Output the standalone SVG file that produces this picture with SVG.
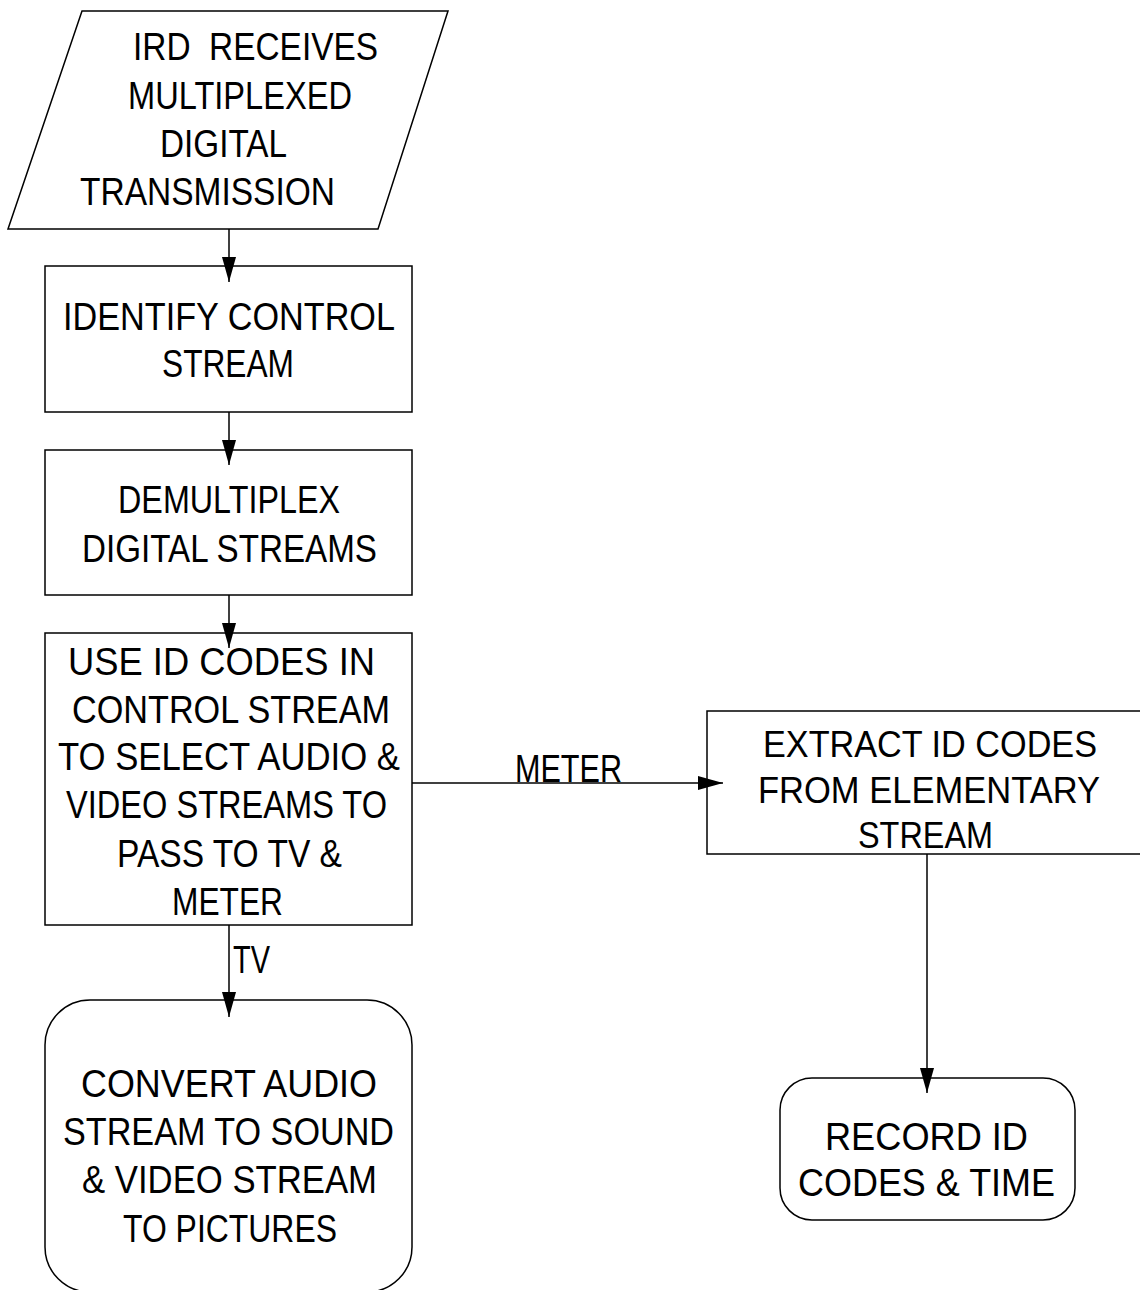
<svg xmlns="http://www.w3.org/2000/svg" width="1140" height="1290" viewBox="0 0 1140 1290">
<style>
.s{fill:#fff;stroke:#000;stroke-width:1.5}
.t{font-family:"Liberation Sans",Arial,sans-serif;font-size:39.5px;fill:#000}
.r{font-size:36.5px}
.c{stroke:#000;stroke-width:1.5;fill:none}
</style>
<defs>
<marker id="ah" markerUnits="userSpaceOnUse" markerWidth="26" markerHeight="16" refX="25" refY="7" orient="auto">
<path d="M0,0 L25,7 L0,14 z" fill="#000"/>
</marker>
</defs>
<rect width="1140" height="1290" fill="#fff"/>
<g id="n1">
<polygon class="s" points="82,11 448,11 378,229 8,229"/>
<text class="t" xml:space="preserve" x="133" y="60" textLength="245" lengthAdjust="spacingAndGlyphs">IRD  RECEIVES</text>
<text class="t" x="128" y="109" textLength="224" lengthAdjust="spacingAndGlyphs">MULTIPLEXED</text>
<text class="t" x="160" y="157" textLength="127" lengthAdjust="spacingAndGlyphs">DIGITAL</text>
<text class="t" x="80" y="205" textLength="255" lengthAdjust="spacingAndGlyphs">TRANSMISSION</text>
</g>
<g id="n2">
<rect class="s" x="45" y="266" width="367" height="146"/>
<text class="t" x="63" y="330" textLength="332" lengthAdjust="spacingAndGlyphs">IDENTIFY CONTROL</text>
<text class="t" x="162" y="377" textLength="132" lengthAdjust="spacingAndGlyphs">STREAM</text>
</g>
<g id="n3">
<rect class="s" x="45" y="450" width="367" height="145"/>
<text class="t" x="118" y="513" textLength="222" lengthAdjust="spacingAndGlyphs">DEMULTIPLEX</text>
<text class="t" x="82" y="562" textLength="295" lengthAdjust="spacingAndGlyphs">DIGITAL STREAMS</text>
</g>
<g id="n4">
<rect class="s" x="45" y="633" width="367" height="292"/>
<text class="t" x="68" y="675" textLength="307" lengthAdjust="spacingAndGlyphs">USE ID CODES IN</text>
<text class="t" x="72" y="723" textLength="318" lengthAdjust="spacingAndGlyphs">CONTROL STREAM</text>
<text class="t" x="58" y="770" textLength="342" lengthAdjust="spacingAndGlyphs">TO SELECT AUDIO &amp;</text>
<text class="t" x="66" y="818" textLength="321" lengthAdjust="spacingAndGlyphs">VIDEO STREAMS TO</text>
<text class="t" x="117" y="867" textLength="225" lengthAdjust="spacingAndGlyphs">PASS TO TV &amp;</text>
<text class="t" x="172" y="915" textLength="111" lengthAdjust="spacingAndGlyphs">METER</text>
</g>
<g id="n5">
<rect class="s" x="45" y="1000" width="367" height="292" rx="45" ry="45"/>
<text class="t" x="81" y="1097" textLength="296" lengthAdjust="spacingAndGlyphs">CONVERT AUDIO</text>
<text class="t" x="63" y="1145" textLength="331" lengthAdjust="spacingAndGlyphs">STREAM TO SOUND</text>
<text class="t" x="82" y="1193" textLength="295" lengthAdjust="spacingAndGlyphs">&amp; VIDEO STREAM</text>
<text class="t" x="123" y="1242" textLength="214" lengthAdjust="spacingAndGlyphs">TO PICTURES</text>
</g>
<g id="n6">
<path class="s" d="M1140,711 H707 V854 H1140"/>
<text class="t r" x="763" y="757" textLength="334" lengthAdjust="spacingAndGlyphs">EXTRACT ID CODES</text>
<text class="t r" x="758" y="803" textLength="342" lengthAdjust="spacingAndGlyphs">FROM ELEMENTARY</text>
<text class="t r" x="858" y="848" textLength="135" lengthAdjust="spacingAndGlyphs">STREAM</text>
</g>
<g id="n7">
<rect class="s" x="780" y="1078" width="295" height="142" rx="32" ry="32"/>
<text class="t" x="825" y="1150" textLength="203" lengthAdjust="spacingAndGlyphs">RECORD ID</text>
<text class="t" x="798" y="1196" textLength="257" lengthAdjust="spacingAndGlyphs">CODES &amp; TIME</text>
</g>
<g id="connectors">
<line class="c" x1="229" y1="229" x2="229" y2="282" marker-end="url(#ah)"/>
<line class="c" x1="229" y1="412" x2="229" y2="465" marker-end="url(#ah)"/>
<line class="c" x1="229" y1="595" x2="229" y2="648" marker-end="url(#ah)"/>
<line class="c" x1="229" y1="925" x2="229" y2="1017" marker-end="url(#ah)"/>
<line class="c" x1="412" y1="783" x2="723" y2="783" marker-end="url(#ah)"/>
<line class="c" x1="927" y1="854" x2="927" y2="1093" marker-end="url(#ah)"/>
<text class="t" x="233" y="973" textLength="37" lengthAdjust="spacingAndGlyphs">TV</text>
<text class="t" x="515" y="782" textLength="107" lengthAdjust="spacingAndGlyphs">METER</text>
</g>
</svg>
